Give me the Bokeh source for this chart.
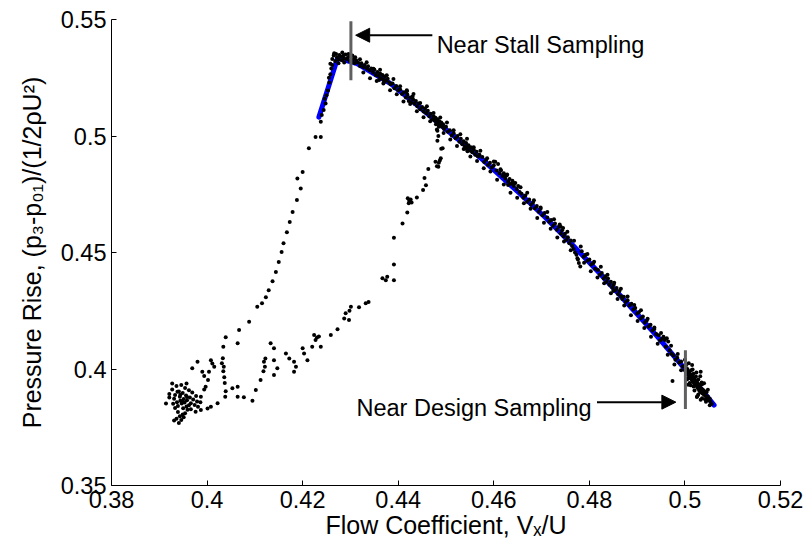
from bokeh.plotting import figure
from bokeh.models import Range1d, FixedTicker, Label, Arrow, NormalHead, ColumnDataSource
from bokeh.embed import file_html
from bokeh.resources import INLINE

# ---------------- data ----------------
x_ticks = [0.38, 0.40, 0.42, 0.44, 0.46, 0.48, 0.50, 0.52]
x_tick_labels = ["0.38", "0.4", "0.42", "0.44", "0.46", "0.48", "0.5", "0.52"]
y_ticks = [0.35, 0.40, 0.45, 0.50, 0.55]
y_tick_labels = ["0.35", "0.4", "0.45", "0.5", "0.55"]
x_title = "Flow Coefficient, V\u2093/U"
y_title = "Pressure Rise, (p\u2083-p\u2080\u2081)/(1/2\u03c1U\u00b2)"

# fitted characteristic (blue)
fit_x = [0.4234, 0.4273, 0.4314, 0.4384, 0.4447, 0.4496, 0.4573, 0.4656, 0.4709,
         0.4766, 0.4815, 0.4856, 0.4907, 0.4942, 0.4998, 0.5061]
fit_y = [0.5081, 0.5334, 0.5311, 0.5225, 0.5120, 0.5035, 0.4905, 0.4750, 0.4648,
         0.4530, 0.4425, 0.4335, 0.4220, 0.4140, 0.4005, 0.3845]

# measured samples along the stable characteristic (close to the fit)
band_pts = [
    (0.4262, 0.5330), (0.4265, 0.5345), (0.4268, 0.5322), (0.4270, 0.5352), (0.4272, 0.5338),
    (0.4275, 0.5328), (0.4277, 0.5348), (0.4280, 0.5340), (0.4282, 0.5325), (0.4285, 0.5344),
    (0.4287, 0.5333), (0.4290, 0.5350), (0.4292, 0.5330), (0.4295, 0.5338), (0.4298, 0.5322),
    (0.4300, 0.5340), (0.4303, 0.5318), (0.4306, 0.5330), (0.4309, 0.5312), (0.4312, 0.5325),
    (0.4240, 0.5090), (0.4244, 0.5112), (0.4248, 0.5140), (0.4250, 0.5175), (0.4253, 0.5195),
    (0.4256, 0.5230), (0.4258, 0.5265), (0.4260, 0.5290), (0.4262, 0.5305), (0.4258, 0.5310),
    (0.4255, 0.5250), (0.4246, 0.5160),
    (0.4316, 0.5315), (0.4320, 0.5300), (0.4323, 0.5312), (0.4327, 0.5296), (0.4330, 0.5305),
    (0.4334, 0.5290), (0.4337, 0.5299), (0.4340, 0.5282), (0.4344, 0.5290), (0.4347, 0.5272),
    (0.4350, 0.5285), (0.4353, 0.5262), (0.4356, 0.5275), (0.4359, 0.5258), (0.4362, 0.5268),
    (0.4364, 0.5248), (0.4367, 0.5262), (0.4369, 0.5243), (0.4372, 0.5255), (0.4375, 0.5238),
    (0.4378, 0.5246), (0.4381, 0.5230), (0.4384, 0.5222), (0.4370, 0.5230), (0.4360, 0.5240),
    (0.4388, 0.5225), (0.4392, 0.5205), (0.4396, 0.5215), (0.4400, 0.5196), (0.4404, 0.5200),
    (0.4408, 0.5180), (0.4412, 0.5188), (0.4416, 0.5165), (0.4419, 0.5178), (0.4422, 0.5150),
    (0.4425, 0.5165), (0.4428, 0.5145), (0.4431, 0.5158), (0.4434, 0.5138), (0.4437, 0.5150),
    (0.4440, 0.5128), (0.4443, 0.5140), (0.4446, 0.5115), (0.4430, 0.5170), (0.4418, 0.5192),
    (0.4450, 0.5125), (0.4453, 0.5105), (0.4456, 0.5118), (0.4459, 0.5098), (0.4462, 0.5108),
    (0.4465, 0.5085), (0.4468, 0.5096), (0.4471, 0.5072), (0.4474, 0.5085), (0.4476, 0.5066),
    (0.4478, 0.5078), (0.4480, 0.5060), (0.4482, 0.5072), (0.4484, 0.5052), (0.4486, 0.5063),
    (0.4488, 0.5045), (0.4490, 0.5058), (0.4492, 0.5040), (0.4494, 0.5050), (0.4496, 0.5030),
    (0.4485, 0.5040), (0.4479, 0.5050),
    (0.4500, 0.5040), (0.4504, 0.5018), (0.4508, 0.5025), (0.4512, 0.5002), (0.4516, 0.5012),
    (0.4520, 0.4990), (0.4524, 0.5000), (0.4528, 0.4975), (0.4531, 0.4988), (0.4534, 0.4965),
    (0.4537, 0.4978), (0.4540, 0.4955), (0.4542, 0.4970), (0.4545, 0.4948), (0.4547, 0.4960),
    (0.4550, 0.4938), (0.4552, 0.4952), (0.4555, 0.4930), (0.4558, 0.4942), (0.4561, 0.4920),
    (0.4564, 0.4932), (0.4567, 0.4912), (0.4570, 0.4920), (0.4545, 0.4935), (0.4540, 0.4945),
    (0.4576, 0.4910), (0.4580, 0.4888), (0.4584, 0.4898), (0.4588, 0.4876), (0.4592, 0.4885),
    (0.4596, 0.4865), (0.4600, 0.4875), (0.4603, 0.4890), (0.4606, 0.4852), (0.4609, 0.4880),
    (0.4612, 0.4840), (0.4615, 0.4852), (0.4618, 0.4828), (0.4621, 0.4840), (0.4624, 0.4818),
    (0.4627, 0.4830), (0.4630, 0.4805), (0.4633, 0.4815), (0.4636, 0.4795), (0.4639, 0.4808),
    (0.4642, 0.4785), (0.4645, 0.4798), (0.4648, 0.4772), (0.4651, 0.4785), (0.4654, 0.4760),
    (0.4630, 0.4790), (0.4625, 0.4830),
    (0.4658, 0.4752), (0.4662, 0.4735), (0.4666, 0.4745), (0.4670, 0.4718), (0.4674, 0.4728),
    (0.4678, 0.4705), (0.4682, 0.4715), (0.4686, 0.4690), (0.4690, 0.4700), (0.4694, 0.4675),
    (0.4698, 0.4688), (0.4702, 0.4660), (0.4706, 0.4670),
    (0.4712, 0.4650), (0.4716, 0.4632), (0.4720, 0.4640), (0.4724, 0.4615), (0.4728, 0.4625),
    (0.4732, 0.4598), (0.4736, 0.4610), (0.4740, 0.4582), (0.4743, 0.4595), (0.4746, 0.4570),
    (0.4749, 0.4580), (0.4752, 0.4555), (0.4755, 0.4565), (0.4758, 0.4540), (0.4761, 0.4552),
    (0.4764, 0.4528), (0.4767, 0.4515), (0.4770, 0.4500), (0.4773, 0.4490), (0.4776, 0.4470),
    (0.4778, 0.4455), (0.4781, 0.4440), (0.4745, 0.4605), (0.4738, 0.4620),
    (0.4784, 0.4505), (0.4788, 0.4482), (0.4792, 0.4490), (0.4796, 0.4465), (0.4800, 0.4470),
    (0.4804, 0.4448), (0.4808, 0.4455), (0.4812, 0.4430),
    (0.4818, 0.4425), (0.4822, 0.4405), (0.4826, 0.4412), (0.4830, 0.4388), (0.4833, 0.4398),
    (0.4836, 0.4375), (0.4839, 0.4388), (0.4842, 0.4362), (0.4845, 0.4375), (0.4848, 0.4350),
    (0.4851, 0.4362), (0.4854, 0.4338), (0.4857, 0.4348), (0.4860, 0.4322), (0.4863, 0.4335),
    (0.4866, 0.4312), (0.4869, 0.4300), (0.4850, 0.4335),
    (0.4872, 0.4310), (0.4876, 0.4288), (0.4880, 0.4295), (0.4884, 0.4272), (0.4888, 0.4280),
    (0.4892, 0.4255), (0.4896, 0.4262), (0.4900, 0.4238), (0.4904, 0.4245), (0.4908, 0.4218),
    (0.4912, 0.4225), (0.4916, 0.4200), (0.4920, 0.4208), (0.4924, 0.4182), (0.4928, 0.4190),
    (0.4932, 0.4165), (0.4936, 0.4172), (0.4940, 0.4150),
    (0.4945, 0.4145), (0.4948, 0.4122), (0.4952, 0.4130), (0.4955, 0.4138), (0.4958, 0.4125),
    (0.4962, 0.4132), (0.4965, 0.4118), (0.4960, 0.4095), (0.4968, 0.4080), (0.4972, 0.4065),
    (0.4976, 0.4058), (0.4980, 0.4040), (0.4984, 0.4048), (0.4988, 0.4028), (0.4992, 0.4032),
    (0.4995, 0.4012),
    (0.4998, 0.4010), (0.5000, 0.3995), (0.5002, 0.4015), (0.5003, 0.3985), (0.5005, 0.4000),
    (0.5006, 0.3975), (0.5008, 0.3990), (0.5009, 0.3968), (0.5010, 0.3982), (0.5011, 0.3960),
    (0.5012, 0.3975), (0.5013, 0.3995), (0.5014, 0.3955), (0.5015, 0.3970), (0.5016, 0.3945),
    (0.5017, 0.3962), (0.5018, 0.3980), (0.5019, 0.3940), (0.5020, 0.3958), (0.5021, 0.3935),
    (0.5022, 0.3950), (0.5023, 0.3968), (0.5024, 0.3928), (0.5025, 0.3945), (0.5026, 0.3920),
    (0.5027, 0.3938), (0.5028, 0.3955), (0.5029, 0.3912), (0.5030, 0.3930), (0.5031, 0.3905),
    (0.5032, 0.3922), (0.5033, 0.3988), (0.5034, 0.3900), (0.5035, 0.3915), (0.5036, 0.3935),
    (0.5037, 0.3895), (0.5038, 0.3910), (0.5040, 0.3890), (0.5041, 0.3905), (0.5042, 0.3870),
    (0.5043, 0.3885), (0.5045, 0.3900), (0.5046, 0.3875), (0.5048, 0.3882), (0.5050, 0.3865),
    (0.5052, 0.3872), (0.5054, 0.3858), (0.5056, 0.3850), (0.5033, 0.3868), (0.5025, 0.3880),
    (0.4974, 0.3948), (0.5018, 0.3925), (0.5010, 0.3940), (0.5005, 0.3958),
]

# measured samples along the stable characteristic (wider scatter)
band_spread_pts = [
    (0.4266, 0.5355), (0.4283, 0.5358), (0.4296, 0.5352), (0.4304, 0.5345), (0.4310, 0.5338),
    (0.4287, 0.5315), (0.4275, 0.5312),
    (0.4320, 0.5329), (0.4327, 0.5273), (0.4334, 0.5316), (0.4341, 0.5248), (0.4348, 0.5289),
    (0.4355, 0.5236), (0.4362, 0.5284), (0.4369, 0.5225), (0.4376, 0.5261), (0.4383, 0.5196),
    (0.4390, 0.5245), (0.4397, 0.5179), (0.4404, 0.5214), (0.4411, 0.5148), (0.4418, 0.5196),
    (0.4425, 0.5137), (0.4432, 0.5180), (0.4439, 0.5106), (0.4446, 0.5142), (0.4453, 0.5080),
    (0.4460, 0.5128), (0.4467, 0.5063), (0.4474, 0.5099), (0.4481, 0.5028), (0.4488, 0.5079),
    (0.4495, 0.5013), (0.4502, 0.5058), (0.4509, 0.4985), (0.4516, 0.5025), (0.4523, 0.4957),
    (0.4530, 0.5008), (0.4537, 0.4944), (0.4544, 0.4988), (0.4551, 0.4912), (0.4558, 0.4952),
    (0.4565, 0.4893), (0.4572, 0.4937), (0.4579, 0.4862), (0.4586, 0.4905), (0.4593, 0.4848),
    (0.4600, 0.4891), (0.4607, 0.4812), (0.4614, 0.4857), (0.4621, 0.4792), (0.4628, 0.4835),
    (0.4635, 0.4756), (0.4642, 0.4798), (0.4649, 0.4735), (0.4656, 0.4780), (0.4663, 0.4711),
    (0.4670, 0.4756), (0.4677, 0.4688), (0.4684, 0.4724), (0.4691, 0.4648), (0.4698, 0.4693),
    (0.4705, 0.4628), (0.4712, 0.4674), (0.4719, 0.4602), (0.4726, 0.4643), (0.4733, 0.4564),
    (0.4740, 0.4610), (0.4747, 0.4547), (0.4754, 0.4589), (0.4761, 0.4510), (0.4768, 0.4550),
    (0.4775, 0.4475), (0.4782, 0.4526), (0.4789, 0.4456), (0.4796, 0.4494), (0.4803, 0.4419),
    (0.4810, 0.4460), (0.4817, 0.4393), (0.4824, 0.4439), (0.4831, 0.4368), (0.4838, 0.4404),
    (0.4845, 0.4325), (0.4852, 0.4370), (0.4859, 0.4300), (0.4866, 0.4344), (0.4873, 0.4273),
    (0.4880, 0.4311), (0.4887, 0.4231), (0.4894, 0.4275), (0.4901, 0.4206), (0.4908, 0.4252),
    (0.4915, 0.4176), (0.4922, 0.4216), (0.4929, 0.4138), (0.4936, 0.4178), (0.4943, 0.4108),
    (0.4950, 0.4155), (0.4957, 0.4130), (0.4964, 0.4061), (0.4971, 0.4100), (0.4978, 0.4019),
    (0.4985, 0.4064), (0.4992, 0.3995),
    (0.5000, 0.4040), (0.5004, 0.3955), (0.5008, 0.4025), (0.5012, 0.3930), (0.5016, 0.3998),
    (0.5020, 0.3908), (0.5024, 0.3985), (0.5028, 0.3891), (0.5032, 0.3969), (0.5036, 0.3874),
    (0.5040, 0.3939), (0.5044, 0.3859), (0.5048, 0.3911), (0.5052, 0.3844), (0.5007, 0.3932),
    (0.5015, 0.4017), (0.5026, 0.3883), (0.5035, 0.3942), (0.5018, 0.3965), (0.5022, 0.3930),
]

# stall inception: left (dropping) branch of the loop
stall_branch_pts = [
    (0.4238, 0.5061), (0.4227, 0.4996), (0.4238, 0.4996), (0.4213, 0.4947), (0.4200, 0.4846),
    (0.4189, 0.4818), (0.4196, 0.4775), (0.4188, 0.4725), (0.4179, 0.4674), (0.4173, 0.4631),
    (0.4167, 0.4587), (0.4160, 0.4540), (0.4156, 0.4502), (0.4150, 0.4459), (0.4144, 0.4416),
    (0.4137, 0.4377), (0.4129, 0.4338), (0.4123, 0.4308), (0.4115, 0.4282), (0.4105, 0.4267),
    (0.4088, 0.4203), (0.4067, 0.4167), (0.4039, 0.4136), (0.4034, 0.4096), (0.4064, 0.4110),
    (0.4033, 0.4046), (0.4031, 0.4025), (0.4035, 0.4010), (0.4034, 0.3990), (0.4036, 0.3965),
    (0.4037, 0.3940), (0.4039, 0.3905), (0.4038, 0.3881),
    (0.4008, 0.4038), (0.4011, 0.4024), (0.4015, 0.4010), (0.4004, 0.3988), (0.4002, 0.3953),
    (0.3997, 0.3924), (0.3980, 0.4031), (0.3969, 0.4003), (0.3990, 0.3988), (0.3994, 0.3970),
    (0.3994, 0.3912), (0.3987, 0.3881), (0.4008, 0.3838), (0.4001, 0.3831), (0.3987, 0.3824),
    (0.3976, 0.3817),
]

# fully stalled cluster
stalled_pts = [
    (0.3921, 0.3893), (0.3927, 0.3912), (0.3933, 0.3888), (0.3936, 0.3927), (0.3941, 0.3903),
    (0.3943, 0.3881), (0.3946, 0.3931), (0.3949, 0.3897), (0.3951, 0.3871), (0.3954, 0.3918),
    (0.3956, 0.3886), (0.3958, 0.3866), (0.3962, 0.3909), (0.3964, 0.3878), (0.3966, 0.3853),
    (0.3969, 0.3899), (0.3971, 0.3869), (0.3974, 0.3845), (0.3977, 0.3884), (0.3979, 0.3861),
    (0.3931, 0.3872), (0.3937, 0.3857), (0.3939, 0.3841), (0.3944, 0.3864), (0.3947, 0.3852),
    (0.3950, 0.3832), (0.3953, 0.3856), (0.3957, 0.3839), (0.3959, 0.3825), (0.3962, 0.3844),
    (0.3929, 0.3851), (0.3933, 0.3833), (0.3939, 0.3815), (0.3943, 0.3797), (0.3946, 0.3781),
    (0.3949, 0.3805), (0.3936, 0.3787), (0.3931, 0.3779), (0.3941, 0.3768), (0.3951, 0.3793),
    (0.3914, 0.3852), (0.3921, 0.3878), (0.3927, 0.3938), (0.3957, 0.3938), (0.3986, 0.3857),
    (0.3981, 0.3838), (0.3966, 0.3827), (0.3954, 0.3810), (0.3938, 0.3902), (0.3944, 0.3890),
    (0.3958, 0.3880), (0.3948, 0.3862),
]

# recovery: lower (rising) branch of the loop
recovery_pts = [
    (0.4022, 0.3853), (0.4053, 0.3917), (0.4064, 0.3924), (0.4064, 0.3881), (0.4077, 0.3879),
    (0.4095, 0.3864), (0.4102, 0.3910), (0.4112, 0.3953), (0.4119, 0.4031), (0.4121, 0.4010),
    (0.4122, 0.4045), (0.4118, 0.3990), (0.4133, 0.4110), (0.4140, 0.4089), (0.4140, 0.4038),
    (0.4147, 0.4003), (0.4140, 0.3974), (0.4165, 0.4067), (0.4172, 0.4045), (0.4182, 0.4031),
    (0.4186, 0.4010), (0.4182, 0.3988), (0.4200, 0.4089), (0.4203, 0.4067), (0.4210, 0.4038),
    (0.4224, 0.4146), (0.4227, 0.4124), (0.4220, 0.4096), (0.4238, 0.4096), (0.4230, 0.4135),
    (0.4234, 0.4140), (0.4259, 0.4146), (0.4273, 0.4171), (0.4287, 0.4217), (0.4297, 0.4210),
    (0.4301, 0.4267), (0.4290, 0.4239), (0.4298, 0.4250), (0.4318, 0.4265), (0.4332, 0.4282),
    (0.4338, 0.4288), (0.4367, 0.4389), (0.4374, 0.4381), (0.4391, 0.4381), (0.4377, 0.4396),
    (0.4391, 0.4449), (0.4391, 0.4563), (0.4409, 0.4625), (0.4419, 0.4672), (0.4420, 0.4733),
    (0.4423, 0.4722), (0.4426, 0.4728), (0.4428, 0.4715), (0.4422, 0.4711), (0.4439, 0.4736),
    (0.4452, 0.4768), (0.4458, 0.4789), (0.4455, 0.4820), (0.4463, 0.4858), (0.4484, 0.4868),
    (0.4485, 0.4885), (0.4487, 0.4895), (0.4489, 0.4905), (0.4493, 0.4947), (0.4490, 0.4945),
    (0.4482, 0.5022), (0.4484, 0.5000), (0.4482, 0.4980), (0.4478, 0.4889), (0.4481, 0.4870),
]

# sampling markers (x location, y extent)
sample_x = [0.4301, 0.5001]
sample_y0 = [0.5239, 0.3828]
sample_y1 = [0.5493, 0.4081]

# ---------------- figure ----------------
L, R, T, B = 111, 30, 19, 66
W, H = 810, 551
X0, X1, Y0, Y1 = 0.38, 0.52, 0.35, 0.55

p = figure(width=W, height=H, x_range=Range1d(X0, X1), y_range=Range1d(Y0, Y1),
           output_backend="svg", toolbar_location=None, title=None,
           min_border_left=L, min_border_right=R, min_border_top=T, min_border_bottom=B)
p.xgrid.visible = False
p.ygrid.visible = False
p.outline_line_color = None
p.background_fill_color = "white"
p.border_fill_color = "white"

FONT = "Liberation Sans"
for ax in (p.xaxis[0], p.yaxis[0]):
    ax.major_tick_in = 5
    ax.major_tick_out = 0
    ax.minor_tick_in = 0
    ax.minor_tick_out = 0
    ax.axis_line_color = "black"
    ax.axis_line_width = 1
    ax.major_tick_line_color = "black"
    ax.major_label_text_font = FONT
    ax.major_label_text_font_size = "23.5px"
    ax.major_label_text_color = "black"
    ax.major_label_standoff = 5
    ax.axis_label_text_font = FONT
    ax.axis_label_text_font_size = "25px"
    ax.axis_label_text_font_style = "normal"
    ax.axis_label_text_color = "black"

p.xaxis.ticker = FixedTicker(ticks=x_ticks)
p.xaxis.major_label_overrides = dict(zip(x_ticks, x_tick_labels))
p.yaxis.ticker = FixedTicker(ticks=y_ticks)
p.yaxis.major_label_overrides = dict(zip(y_ticks, y_tick_labels))
p.xaxis.axis_label = x_title
p.yaxis.axis_label = y_title
p.xaxis.axis_label_standoff = 0
p.yaxis.axis_label_standoff = 12

# fitted line
p.line(fit_x, fit_y, line_color="#0000FF", line_width=5, line_join="round", line_cap="round")

# samples
all_pts = band_pts + band_spread_pts + stall_branch_pts + stalled_pts + recovery_pts
src = ColumnDataSource(data=dict(x=[a for a, b in all_pts], y=[b for a, b in all_pts]))
p.scatter("x", "y", source=src, size=4, fill_color="black", line_color=None)

# sampling markers
p.segment(x0=sample_x, y0=sample_y0, x1=sample_x, y1=sample_y1, line_color="#606060", line_width=3)

# arrows
p.add_layout(Arrow(end=NormalHead(size=14, fill_color="black", line_color="black"),
                   x_start=0.44714, y_start=0.54326, x_end=0.43110, y_end=0.54326,
                   line_color="black", line_width=2))
p.add_layout(Arrow(end=NormalHead(size=14, fill_color="black", line_color="black"),
                   x_start=0.48160, y_start=0.38578, x_end=0.49810, y_end=0.38578,
                   line_color="black", line_width=2))

ANN = "23.5px"
p.add_layout(Label(x=0.44804, y=0.53926, text="Near Stall Sampling", text_font=FONT,
                   text_font_size=ANN, text_align="left", text_baseline="alphabetic",
                   text_color="black"))
p.add_layout(Label(x=0.48046, y=0.38307, text="Near Design Sampling", text_font=FONT,
                   text_font_size=ANN, text_align="right", text_baseline="alphabetic",
                   text_color="black"))

open("out.html", "w").write(file_html(p, INLINE))
